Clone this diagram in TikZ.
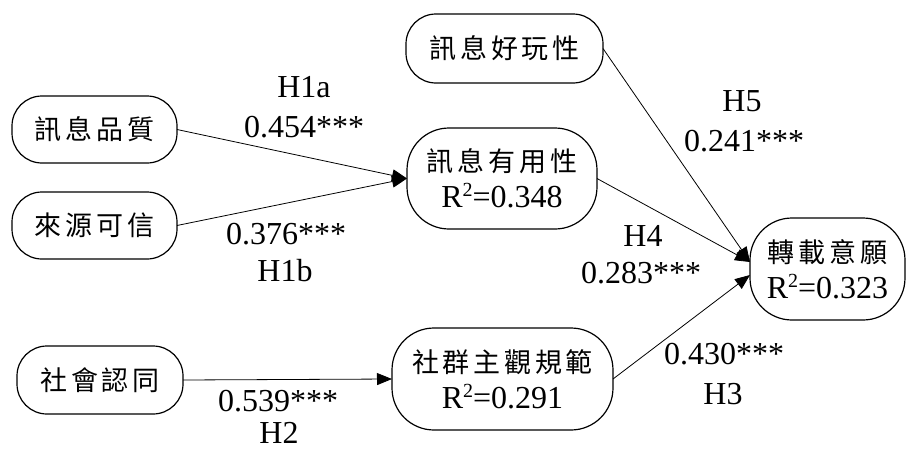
\documentclass[tikz,border=0pt]{standalone}
\usepackage{fontspec}
\setmainfont{Liberation Serif}
\newfontfamily\cjk[LetterSpace=14]{Noto Sans CJK TC}
\usetikzlibrary{arrows.meta,calc}
\begin{document}
\begin{tikzpicture}[x=1pt,y=-1pt,
  every node/.style={inner sep=0pt,outer sep=0pt,font=\fontsize{32}{36}\selectfont},
  lbl/.style={},
  smallbox/.style={draw,line width=1.2pt,rounded corners=30pt,align=center},
  tallbox/.style={draw,line width=1.2pt,rounded corners=42pt,align=center},
  edge/.style={line width=0.8pt,-{Triangle[length=15pt,width=12pt]}},
  zh/.style={font=\fontsize{27}{36}\cjk}]
\useasboundingbox (0,0) rectangle (906,450);
% nodes
\node[smallbox,zh,minimum width=165pt,minimum height=67pt] (Q) at (94.5,129.5) {訊息品質};
\node[smallbox,zh,minimum width=165pt,minimum height=67pt] (C) at (94.5,225.5) {來源可信};
\node[smallbox,zh,minimum width=166pt,minimum height=68pt] (S) at (100,380) {社會認同};
\node[smallbox,zh,minimum width=197pt,minimum height=69pt] (E) at (504.5,48.5) {訊息好玩性};
\node[tallbox,minimum width=190pt,minimum height=101pt] (U) at (502,178.5) {{\fontsize{27}{36}\cjk 訊息有用性}\\R{\fontsize{20}{20}\selectfont\raisebox{11pt}{2}}=0.348};
\node[tallbox,minimum width=221pt,minimum height=102pt] (N) at (502.5,379) {{\fontsize{27}{36}\cjk 社群主觀規範}\\R{\fontsize{20}{20}\selectfont\raisebox{11pt}{2}}=0.291};
\node[tallbox,minimum width=155pt,minimum height=102pt] (I) at (827.5,269) {{\fontsize{27}{36}\cjk 轉載意願}\\R{\fontsize{20}{20}\selectfont\raisebox{11pt}{2}}=0.323};
% edges
\coordinate (Iu) at ($(I.west)+(0,-7)$);
\coordinate (Il) at ($(I.west)+(0,6)$);
\draw[edge] (Q.east) -- (U.west);
\draw[edge] (C.east) -- (U.west);
\draw[edge] (S.east) -- (N.west);
\draw[edge] (E.east) -- (Iu);
\draw[edge] (U.east) -- (Iu);
\draw[edge] (N.east) -- (Il);
% labels
\node[lbl] (h1a) at (304,87) {H1a};
\node[lbl] (v1a) at (304,127) {0.454***};
\node[lbl] (v1b) at (286,234) {0.376***};
\node[lbl] (h1b) at (285,271) {H1b};
\node[lbl] (h5) at (742,101) {H5};
\node[lbl] (v5) at (744,141) {0.241***};
\node[lbl] (h4) at (643,236) {H4};
\node[lbl] (v4) at (641,273) {0.283***};
\node[lbl] (v3) at (724,354) {0.430***};
\node[lbl] (h3) at (723,394) {H3};
\node[lbl] (v2) at (278,401) {0.539***};
\node[lbl] (h2) at (279,433) {H2};
\end{tikzpicture}
\end{document}
